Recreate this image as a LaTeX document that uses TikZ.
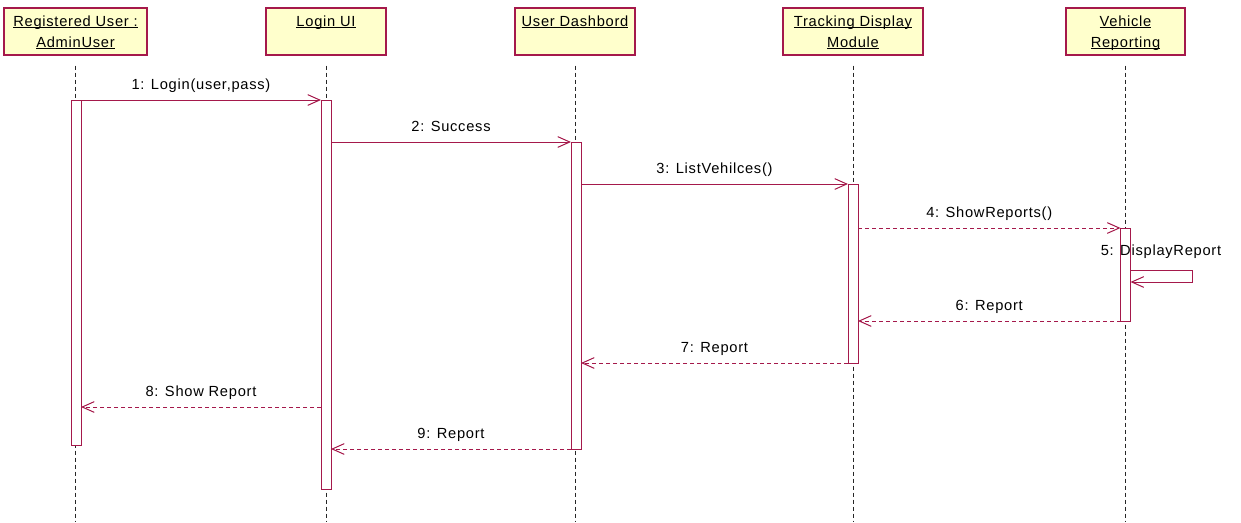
\documentclass[tikz,border=0pt]{standalone}
\usepackage{fontspec}
\setmainfont{Liberation Sans}[LetterSpace=5]
\usetikzlibrary{arrows.meta, positioning}
\definecolor{umlred}{RGB}{165,25,75}
\definecolor{umlfill}{RGB}{255,255,204}
% underlined object name, rule at a fixed depth
\newcommand{\objname}[1]{\setbox0\hbox{#1}\rlap{\rule[-1.6pt]{\wd0}{0.6pt}}\box0}
\newcommand{\topline}{\rule{0pt}{10.5pt}}
\newcommand{\botline}{\rule[-3pt]{0pt}{3pt}}

\begin{document}
\begin{tikzpicture}[x=0.75pt, y=-0.75pt, font=\fontsize{11}{13}\selectfont]
		\tikzstyle{Obj} = [rectangle, draw=umlred, fill=umlfill, line width=0.9pt, minimum width=90pt, minimum height=35.25pt, align=center, inner sep=0pt, font=\fontsize{11}{15.75}\selectfont]
		\tikzstyle{Bar} = [rectangle, draw=umlred, fill=white, line width=0.75pt, minimum width=7.5pt, inner sep=0pt, outer sep=0pt, anchor=north]
		\tikzstyle{life} = [black!85, line width=0.75pt, dash pattern=on 3pt off 2.25pt]
		\tikzstyle{msg} = [umlred, line width=0.75pt, -{Straight Barb[length=9pt, width=8pt]}]
		\tikzstyle{ret} = [msg, dash pattern=on 3pt off 2.25pt]
		\tikzstyle{lbl} = [above=2pt, text=black, text height=8.2pt, text depth=2.3pt]
		\useasboundingbox (0,0) rectangle (1241,522);
		
		% objects
		\node (o1) [Obj, minimum width=107.25pt] at (75.5,31.5) {\topline\objname{Registered User :}\\\objname{AdminUser}\botline};
		\node (o2) [Obj] at (326,31.5) {\topline\objname{Login UI}\\\botline};
		\node (o3) [Obj] at (575,31.5) {\topline\objname{User Dashbord}\\\botline};
		\node (o4) [Obj, minimum width=105pt] at (853,31.5) {\topline\objname{Tracking Display}\\\objname{Module}\botline};
		\node (o5) [Obj, minimum width=89.25pt] at (1125.5,31.5) {\topline\objname{Vehicle}\\\objname{Reporting}\botline};
		
		% lifelines
		\foreach \i in {1,...,5}
			\draw [life] (o\i.south) ++(0,10) -- (o\i.south |- 0,522);
		
		% activations
		\node (a1) [Bar, minimum height=258.75pt] at (76,100) {};
		\node (a2) [Bar, minimum height=291.75pt] at (326,100) {};
		\node (a3) [Bar, minimum height=230.25pt] at (576,142) {};
		\node (a4) [Bar, minimum height=134.25pt] at (853,184) {};
		\node (a5) [Bar, minimum height=69.75pt] at (1125.5,228) {};
		
		% calls
		\draw [msg] (a1.north east) -- (a2.north west) node [lbl, midway] {1: Login(user,pass)};
		\draw [msg] (a2.east |- a3.north) -- (a3.north west) node [lbl, midway] {2: Success};
		\draw [msg] (a3.east |- a4.north) -- (a4.north west) node [lbl, midway] {3: ListVehilces()};
		\draw [ret] (a4.east |- a5.north) -- (a5.north west) node [lbl, midway] {4: ShowReports()};
		\node (l5) at (1161,252) {5: DisplayReport};
		\draw [msg] (a5.east |- 0,270) -- ++(62,0) -- ++(0,12) -- (a5.east |- 0,282);
		
		% returns
		\draw [ret] (a5.south west) -- (a4.east |- a5.south) node [lbl, midway] {6: Report};
		\draw [ret] (a4.south west) -- (a3.east |- a4.south) node [lbl, midway] {7: Report};
		\coordinate (r8) at (a2.west |- 0,407);
		\draw [ret] (r8) -- (a1.east |- r8) node [lbl, midway] {8: Show Report};
		\draw [ret] (a3.south west) -- (a2.east |- a3.south) node [lbl, midway] {9: Report};
\end{tikzpicture}
\end{document}
